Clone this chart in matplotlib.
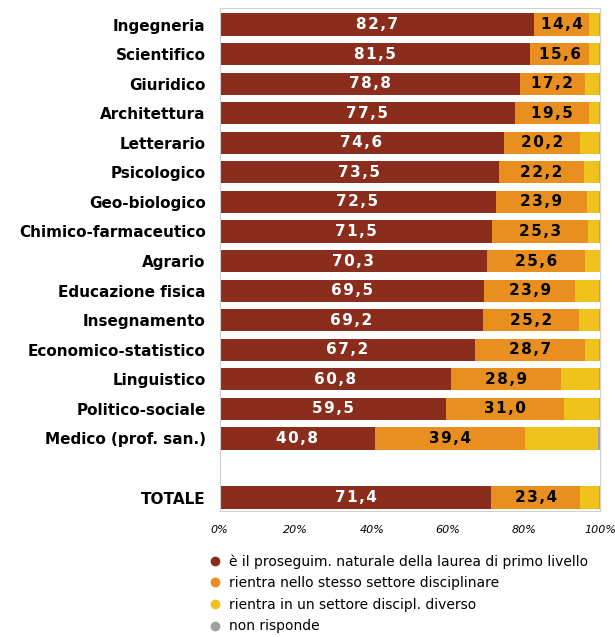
import numpy as np
import matplotlib.pyplot as plt
from matplotlib.lines import Line2D

categories = ['Ingegneria', 'Scientifico', 'Giuridico', 'Architettura', 'Letterario',
              'Psicologico', 'Geo-biologico', 'Chimico-farmaceutico', 'Agrario',
              'Educazione fisica', 'Insegnamento', 'Economico-statistico',
              'Linguistico', 'Politico-sociale', 'Medico (prof. san.)', 'TOTALE']
naturale = [82.7, 81.5, 78.8, 77.5, 74.6, 73.5, 72.5, 71.5, 70.3, 69.5, 69.2, 67.2, 60.8, 59.5, 40.8, 71.4]
stesso = [14.4, 15.6, 17.2, 19.5, 20.2, 22.2, 23.9, 25.3, 25.6, 23.9, 25.2, 28.7, 28.9, 31.0, 39.4, 23.4]
diverso = [2.6, 2.6, 3.7, 2.7, 4.9, 4.0, 3.3, 2.9, 4.0, 6.3, 5.3, 3.8, 10.0, 9.2, 19.3, 4.9]
non_risp = [0.3, 0.3, 0.3, 0.3, 0.3, 0.3, 0.3, 0.3, 0.1, 0.3, 0.3, 0.3, 0.3, 0.3, 0.5, 0.3]
series_labels = ['è il proseguim. naturale della laurea di primo livello',
                 'rientra nello stesso settore disciplinare',
                 'rientra in un settore discipl. diverso',
                 'non risponde']
colors = ['#8a2d1c', '#e98f1f', '#efc21c', '#a0a0a0']
ticks = [0, 20, 40, 60, 80, 100]

ypos = np.array(list(range(15)) + [16])


def spaced(v):
    return '\u200a'.join(f'{v:.1f}'.replace('.', ','))


fig = plt.figure(figsize=(6.15, 6.37), dpi=100)
ax = fig.add_axes([0.357, 0.198, 0.619, 0.789])

left = np.zeros(len(categories))
for vals, col in zip([naturale, stesso, diverso, non_risp], colors):
    vals = np.array(vals)
    ax.barh(ypos, vals, left=left, height=0.75, color=col, edgecolor='none')
    left += vals

for y, a, b in zip(ypos, naturale, stesso):
    ax.text(a / 2, y, spaced(a), ha='center', va='center',
            color='white', fontsize=11, fontweight='bold')
    ax.text(a + b / 2, y, spaced(b), ha='center', va='center',
            color='black', fontsize=11, fontweight='bold')

ax.set_xlim(0, 100)
ax.set_ylim(16.45, -0.55)
ax.set_yticks(ypos)
ax.set_yticklabels(categories, fontsize=11, fontweight='bold')
ax.set_xticks(ticks)
ax.set_xticklabels([f'{t}%' for t in ticks], fontsize=8, style='italic')
ax.tick_params(length=0)
ax.tick_params(axis='x', pad=10)
ax.tick_params(axis='y', pad=10)
for s in ax.spines.values():
    s.set_color('#d0d0d0')

handles = [Line2D([], [], marker='o', linestyle='none', markersize=6,
                  markerfacecolor=c, markeredgecolor=c) for c in colors]
fig.legend(handles, series_labels, loc='upper left', bbox_to_anchor=(0.33, 0.139),
           frameon=False, fontsize=10, handletextpad=0.5, labelspacing=0.55,
           borderaxespad=0, handlelength=1)

fig.savefig('out.png', dpi=100)
